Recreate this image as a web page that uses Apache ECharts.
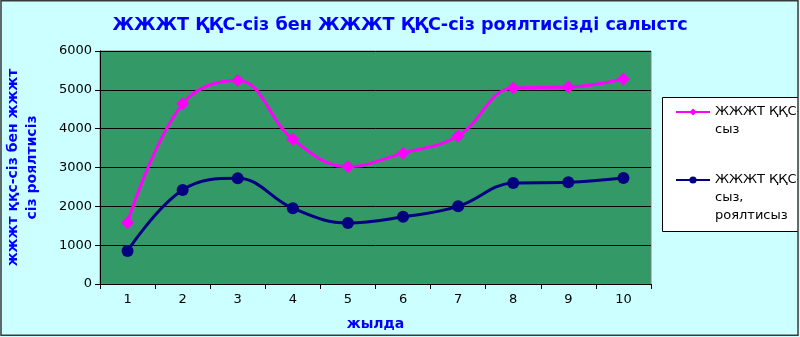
<!DOCTYPE html>
<html>
<head>
<meta charset="utf-8">
<script src="https://cdn.jsdelivr.net/npm/echarts@6/dist/echarts.min.js"></script>
<style>
  html, body { margin: 0; padding: 0; background: #ccffff; }
  #chart { width: 800px; height: 337px; }
</style>
</head>
<body>
<div id="chart"></div>
<script>
  const years = ['1', '2', '3', '4', '5', '6', '7', '8', '9', '10'];
  const withoutVat = [1580, 4640, 5240, 3730, 3020, 3370, 3810, 5050, 5070, 5280];
  const withoutVatRoyalty = [850, 2420, 2720, 1950, 1570, 1730, 2000, 2600, 2620, 2730];
  const yTicks = [0, 1000, 2000, 3000, 4000, 5000, 6000];
  const seriesNames = ['ЖЖЖТ ҚҚС-\nсыз', 'ЖЖЖТ ҚҚС-\nсыз,\nроялтисыз'];

  const font = 'DejaVu Sans';
  const chart = echarts.init(document.getElementById('chart'));

  // legend icon sits in the middle of the text block, so pad the top with empty
  // lines to keep it level with the first line, like Excel does
  function legendBlock(name) {
    const lines = name.split('\n').length;
    return '\n'.repeat(lines - 1) + name;
  }

  const legendText = { color: '#000', fontSize: 13, lineHeight: 18, fontFamily: font };

  chart.setOption({
    backgroundColor: '#ccffff',
    animation: false,
    textStyle: { fontFamily: font },
    title: {
      text: 'ЖЖЖТ ҚҚС-сіз бен ЖЖЖТ ҚҚС-сіз роялтисізді салыстс',
      left: 'center',
      top: 11,
      textStyle: { color: '#0000ff', fontSize: 17.6, fontWeight: 'bold', fontFamily: font }
    },
    legend: [{
      orient: 'vertical',
      left: 675,
      top: 85,
      padding: 0,
      itemWidth: 34,
      itemHeight: 9,
      data: [seriesNames[0]],
      formatter: legendBlock,
      textStyle: legendText
    }, {
      orient: 'vertical',
      left: 675,
      top: 135,
      padding: 0,
      itemWidth: 34,
      itemHeight: 9,
      data: [seriesNames[1]],
      formatter: legendBlock,
      textStyle: legendText
    }],
    grid: {
      left: 100,
      top: 51,
      width: 551,
      height: 233,
      outerBoundsMode: 'none',
      containLabel: false,
      show: true,
      backgroundColor: '#339966',
      borderColor: '#808080',
      borderWidth: 1
    },
    xAxis: {
      type: 'category',
      data: years,
      boundaryGap: true,
      name: 'жылда',
      nameLocation: 'middle',
      nameGap: 33,
      nameTextStyle: { color: '#0000ff', fontSize: 14, fontWeight: 'bold', fontFamily: font },
      axisLine: { lineStyle: { color: '#000', width: 1 } },
      axisTick: { show: true, length: 5, interval: 0, lineStyle: { color: '#000' } },
      axisLabel: { color: '#000', fontSize: 13, margin: 9, interval: 0 },
      splitLine: { show: false }
    },
    yAxis: {
      type: 'value',
      min: yTicks[0],
      max: yTicks[yTicks.length - 1],
      interval: 1000,
      name: 'жжжт ққс-сіз бен жжжт\nсіз роялтисіз',
      nameLocation: 'middle',
      nameRotate: 90,
      nameGap: 58,
      nameTextStyle: { color: '#0000ff', fontSize: 14, fontWeight: 'bold', lineHeight: 19, fontFamily: font },
      axisLine: { show: true, lineStyle: { color: '#000', width: 1 } },
      axisTick: { show: true, length: 5, lineStyle: { color: '#000' } },
      axisLabel: { color: '#000', fontSize: 13, margin: 8, formatter: v => String(v) },
      splitLine: { show: true, lineStyle: { color: '#000', width: 1 } }
    },
    graphic: [{
      type: 'rect',
      z: 1,
      shape: { x: 662.5, y: 97.5, width: 140, height: 134 },
      style: { fill: '#ffffff', stroke: '#000', lineWidth: 1 }
    }, {
      type: 'rect',
      z: 100,
      shape: { x: 798, y: 0, width: 4, height: 337 },
      style: { fill: '#ccffff' }
    }, {
      type: 'rect',
      z: 101,
      shape: { x: 1, y: 0.75, width: 797, height: 334.5 },
      style: { fill: 'none', stroke: '#3a3a3a', lineWidth: 1.5 }
    }],
    series: [{
      name: seriesNames[0],
      type: 'line',
      data: withoutVat,
      smooth: 0.4,
      symbol: 'diamond',
      symbolSize: 13,
      lineStyle: { color: '#ff00ff', width: 3 },
      itemStyle: { color: '#ff00ff' }
    }, {
      name: seriesNames[1],
      type: 'line',
      data: withoutVatRoyalty,
      smooth: 0.4,
      symbol: 'circle',
      symbolSize: 12,
      lineStyle: { color: '#000080', width: 3 },
      itemStyle: { color: '#000080' }
    }]
  });
</script>
</body>
</html>
